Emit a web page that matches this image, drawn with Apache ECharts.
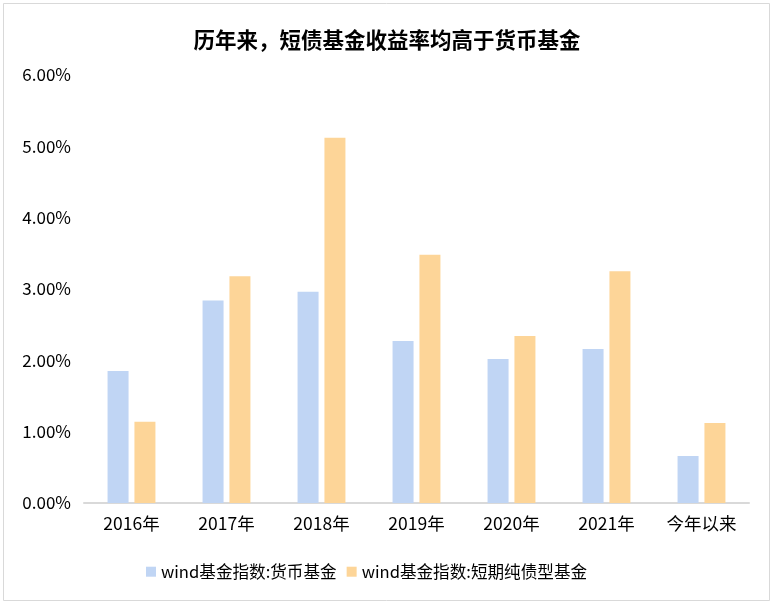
<!DOCTYPE html>
<html><head><meta charset="utf-8">
<script src="https://cdn.jsdelivr.net/npm/echarts@6/dist/echarts.min.js"></script>
<style>html,body{margin:0;padding:0;background:#fff}#c{width:774px;height:606px}</style>
</head><body><div id="c"></div>
<script>
const categories = ['2016年','2017年','2018年','2019年','2020年','2021年','今年以来'];
const moneyFund = [1.85, 2.84, 2.96, 2.27, 2.02, 2.16, 0.66];
const shortBondFund = [1.14, 3.18, 5.12, 3.48, 2.34, 3.25, 1.12];
const seriesNames = ['wind基金指数:货币基金','wind基金指数:短期纯债型基金'];
const titleText = '历年来，短债基金收益率均高于货币基金';

const font = '"Microsoft YaHei","Noto Sans CJK SC",sans-serif';
const chart = echarts.init(document.getElementById('c'));
chart.setOption({
  backgroundColor:'#fff',
  animation:false,
  graphic:[{type:'rect',shape:{x:3.5,y:3.5,width:766,height:597},style:{fill:'none',stroke:'#d9d9d9',lineWidth:1}}],
  title:{text:titleText,left:'center',top:24,textStyle:{fontFamily:font,fontSize:21.5,fontWeight:'bold',color:'#000'}},
  legend:{bottom:21,left:141,itemWidth:10,itemHeight:10,itemGap:10,icon:'rect',
    textStyle:{fontFamily:font,fontSize:16.6,color:'#000'},data:seriesNames},
  grid:{left:84,right:25,top:75,bottom:103,containLabel:false},
  xAxis:{type:'category',data:categories,
    axisLine:{lineStyle:{color:'#d9d9d9',width:2}},axisTick:{show:false},
    axisLabel:{fontFamily:font,fontSize:17.5,color:'#000',margin:12}},
  yAxis:{type:'value',min:0,max:6,interval:1,
    axisLine:{show:false},axisTick:{show:false},splitLine:{show:false},
    axisLabel:{fontFamily:font,fontSize:17,color:'#000',margin:13,formatter:v=>v.toFixed(2)+'%'}},
  series:[
    {name:seriesNames[0],type:'bar',data:moneyFund,barWidth:21,barGap:'28%',itemStyle:{color:'#c0d5f4'}},
    {name:seriesNames[1],type:'bar',data:shortBondFund,barWidth:21,itemStyle:{color:'#fdd598'}}
  ]
});
</script></body></html>
